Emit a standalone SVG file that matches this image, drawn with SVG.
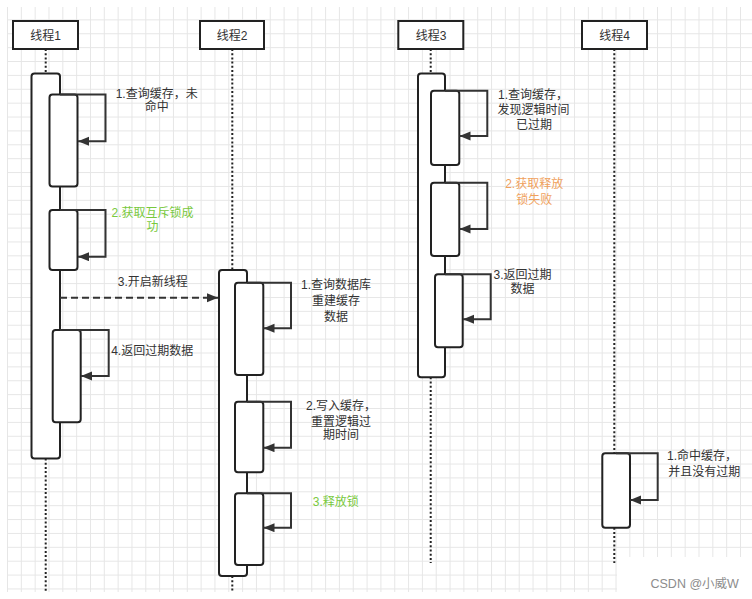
<svg xmlns="http://www.w3.org/2000/svg" width="752" height="599" viewBox="0 0 752 599">
<defs>
<pattern id="grid" patternUnits="userSpaceOnUse" x="7" y="5.5" width="13.83" height="13.88">
<path d="M0.5 0 V13.88 M0 0.5 H13.83" fill="none" stroke="#e6e6e6" stroke-width="1"/>
</pattern>
<marker id="ah" markerUnits="userSpaceOnUse" markerWidth="12" markerHeight="10" refX="11" refY="4.5" orient="auto">
<path d="M0 0 L11 4.5 L0 9 Z" fill="#333"/>
</marker>
<style>
.hdr{fill:#fff;stroke:#222;stroke-width:2}
.act{fill:#fff;stroke:#222;stroke-width:2}
.life{fill:none;stroke:#222;stroke-width:2;stroke-dasharray:2 2.2}
.msg{fill:none;stroke:#333;stroke-width:2;marker-end:url(#ah)}
.dash{stroke-dasharray:7 4}
text{font-family:"Liberation Sans","Noto Sans CJK SC",sans-serif;font-size:12px;fill:#333;text-anchor:middle}
.g{fill:#79c93c}
.o{fill:#f0a15c}
.wm{fill:#8c8c8c;font-size:12.5px}
</style>
</defs>
<rect x="0" y="0" width="752" height="599" fill="#fff"/>
<rect x="7" y="7" width="745" height="585" fill="url(#grid)"/>
<rect x="617" y="557" width="135" height="42" fill="#fff"/>

<g id="thread1">
<path class="life" d="M45.7 49 V73.5 M45.7 458.5 V592"/>
<rect class="hdr" x="13" y="21" width="65" height="28"/>
<text x="45.5" y="39.5">线程1</text>
<rect class="act" x="31.5" y="73.5" width="28.5" height="385" rx="3"/>
<rect class="act" x="49.5" y="94.5" width="28" height="92" rx="3"/>
<rect class="act" x="49.5" y="210" width="28" height="60" rx="3"/>
<rect class="act" x="52.7" y="330" width="28" height="92.3" rx="3"/>
</g>

<g id="thread2">
<path class="life" d="M232.3 49 V270 M232.3 576 V592"/>
<rect class="hdr" x="200" y="21" width="64" height="28"/>
<text x="232" y="39.5">线程2</text>
<rect class="act" x="219" y="270" width="28" height="306" rx="3"/>
<rect class="act" x="235" y="282.7" width="28.3" height="92.3" rx="3"/>
<rect class="act" x="235" y="401.7" width="28.3" height="70.6" rx="3"/>
<rect class="act" x="235" y="493.3" width="28.3" height="71.7" rx="3"/>
</g>

<g id="thread3">
<path class="life" d="M430.7 49 V73.5 M430.7 377.3 V563"/>
<rect class="hdr" x="398.3" y="21" width="65" height="28"/>
<text x="431" y="39.5">线程3</text>
<rect class="act" x="418" y="73.5" width="27" height="303.8" rx="3"/>
<rect class="act" x="431" y="90.7" width="28.3" height="74.3" rx="3"/>
<rect class="act" x="431" y="182.7" width="28.3" height="73.3" rx="3"/>
<rect class="act" x="435" y="274.3" width="27.7" height="73" rx="3"/>
</g>

<g id="thread4">
<path class="life" d="M614.3 49 V453.3 M614.3 527.7 V563"/>
<rect class="hdr" x="582" y="21" width="65" height="28"/>
<text x="614.5" y="39.5">线程4</text>
<rect class="act" x="602.3" y="453.3" width="27.7" height="74.4" rx="3"/>
</g>

<g id="connectors">
<path class="msg" d="M60 94.5 H105.5 V141.3 H78"/>
<path class="msg" d="M60 210 H105.5 V256.7 H78"/>
<path class="msg dash" d="M60 297.7 H218"/>
<path class="msg" d="M60 330 H108.7 V376 H81"/>
<path class="msg" d="M247 282.7 H291 V328.3 H263.5"/>
<path class="msg" d="M247 401.7 H291 V447.7 H263.5"/>
<path class="msg" d="M247 493.3 H291 V527.7 H263.5"/>
<path class="msg" d="M445 90.7 H487.3 V136 H459.5"/>
<path class="msg" d="M445 182.7 H487.3 V229 H459.5"/>
<path class="msg" d="M445 274.3 H490.7 V319.3 H463"/>
<path class="msg" d="M616 453.3 H657.7 V500 H630"/>
</g>

<g id="labels">
<text x="156.7" y="97.5">1.查询缓存，未</text>
<text x="156.7" y="110.9">命中</text>
<text class="g" x="152.5" y="216.9">2.获取互斥锁成</text>
<text class="g" x="152.5" y="230.9">功</text>
<text x="152.8" y="285.9">3.开启新线程</text>
<text x="152.2" y="354.9">4.返回过期数据</text>
<text x="336" y="289.2">1.查询数据库</text>
<text x="336" y="305.2">重建缓存</text>
<text x="336" y="320.9">数据</text>
<text x="341" y="410.2">2.写入缓存，</text>
<text x="341" y="425.9">重置逻辑过</text>
<text x="341" y="439.2">期时间</text>
<text class="g" x="335.8" y="505.9">3.释放锁</text>
<text x="533" y="99.2">1.查询缓存，</text>
<text x="533.5" y="114.2">发现逻辑时间</text>
<text x="534" y="129.2">已过期</text>
<text class="o" x="534.2" y="188.4">2.获取释放</text>
<text class="o" x="534.2" y="203.7">锁失败</text>
<text x="522.5" y="278.5">3.返回过期</text>
<text x="522.5" y="293.2">数据</text>
<text x="702" y="460.2">1.命中缓存，</text>
<text x="704.2" y="475.9">并且没有过期</text>
<text class="wm" x="694.7" y="587.5">CSDN @小威W</text>
</g>
</svg>
